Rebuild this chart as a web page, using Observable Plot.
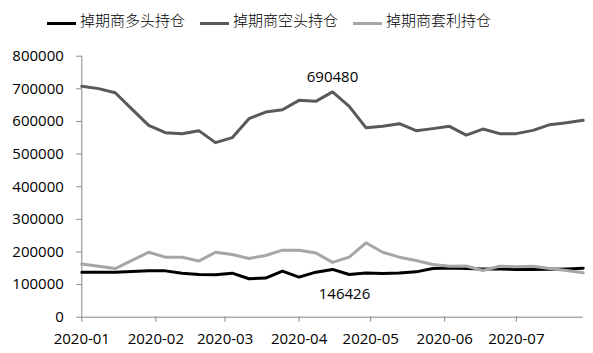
<!DOCTYPE html>
<html>
<head>
<meta charset="utf-8">
<script src="https://cdn.jsdelivr.net/npm/d3@7"></script>
<script src="https://cdn.jsdelivr.net/npm/@observablehq/plot@0.6"></script>
<style>
  body { margin: 0; background: #fff; }
  #legend { position: relative; height: 38px; width: 593px; font-family: "Noto Sans CJK SC", sans-serif; font-size: 15px; font-weight: 300; color: #000; }
  #legend .item { position: absolute; top: 9px; display: flex; align-items: center; white-space: nowrap; }
  #legend .sw { display: inline-block; width: 29px; height: 3px; margin-right: 4px; position: relative; top: 4px; }
  #chart svg [aria-label$="tick"] path, #chart svg .tick line { stroke: #868686; }
</style>
</head>
<body>
<div id="legend"></div>
<div id="chart"></div>
<script>
const dates = ["2020-01-01","2020-01-08","2020-01-15","2020-01-22","2020-01-29","2020-02-05","2020-02-12","2020-02-19","2020-02-26","2020-03-04","2020-03-11","2020-03-18","2020-03-25","2020-04-01","2020-04-08","2020-04-15","2020-04-22","2020-04-29","2020-05-06","2020-05-13","2020-05-20","2020-05-27","2020-06-03","2020-06-10","2020-06-17","2020-06-24","2020-07-01","2020-07-08","2020-07-15","2020-07-22","2020-07-29"];
const longPos  = [138000,138000,138000,140000,142000,142000,135000,131000,130000,135000,118000,120000,141000,123000,138000,146426,131000,135700,134000,135700,139000,149000,151000,149000,148000,148000,146000,146000,147000,148000,150000];
const shortPos = [707700,700600,688000,638000,588000,565600,562600,571800,535000,550300,608600,628800,636000,664700,661700,690480,646300,581000,585000,593200,571800,578000,585000,558300,576700,562600,562600,572700,590200,596300,603400];
const arbPos   = [163000,156000,149000,174000,199000,184000,184000,172000,199000,192000,180000,189000,205500,205500,197000,168000,184000,228000,199000,184000,174000,161500,156000,157000,143000,156000,155000,156000,149000,143000,136000];
const seriesNames = ["掉期商多头持仓","掉期商空头持仓","掉期商套利持仓"];
const seriesColors = ["#000000","#595959","#a6a6a6"];
const yTicks = [0,100000,200000,300000,400000,500000,600000,700000,800000];
const labelDate = "2020-04-15";
const labelShort = 690480;
const labelLong = 146426;

const parse = d3.utcParse("%Y-%m-%d");
const rows = [];
[longPos, shortPos, arbPos].forEach((arr, s) => {
  arr.forEach((v, i) => rows.push({date: parse(dates[i]), value: v, series: seriesNames[s]}));
});

// legend
const legend = document.getElementById("legend");
const legendX = [47, 200, 353];
seriesNames.forEach((n, i) => {
  const it = document.createElement("div");
  it.className = "item";
  it.style.left = legendX[i] + "px";
  it.innerHTML = `<span class="sw" style="background:${seriesColors[i]}"></span><span>${n}</span>`;
  legend.appendChild(it);
});

const x0 = parse(dates[0]), x1 = parse(dates[dates.length - 1]);
const chart = Plot.plot({
  width: 593,
  height: 315,
  marginTop: 17.7,
  marginBottom: 36.3,
  marginLeft: 81.3,
  marginRight: 10.3,
  style: {fontFamily: "'Open Sans', sans-serif", fontSize: "15px", color: "#000", background: "#fff", overflow: "visible"},
  x: {type: "utc", domain: [x0, x1], ticks: d3.utcMonth.every(1), tickFormat: d3.utcFormat("%Y-%m"), tickSize: 5, tickPadding: 11, label: null},
  y: {domain: [0, 800000], ticks: yTicks, tickFormat: "d", tickSize: 5, tickPadding: 13, label: null},
  color: {domain: seriesNames, range: seriesColors},
  marks: [
    Plot.ruleY([0], {stroke: "#868686"}),
    Plot.ruleX([x0], {stroke: "#868686"}),
    Plot.line(rows, {x: "date", y: "value", z: "series", stroke: "series", strokeWidth: 3, strokeLinejoin: "round", curve: "linear"}),
    Plot.text([{date: parse(labelDate), value: labelShort}], {x: "date", y: "value", text: d => String(d.value), dy: -15, fill: "#000"}),
    Plot.text([{date: parse(labelDate), value: labelLong}], {x: "date", y: "value", text: d => String(d.value), dy: 25, dx: 12, fill: "#000"})
  ]
});
document.getElementById("chart").appendChild(chart);
</script>
</body>
</html>
